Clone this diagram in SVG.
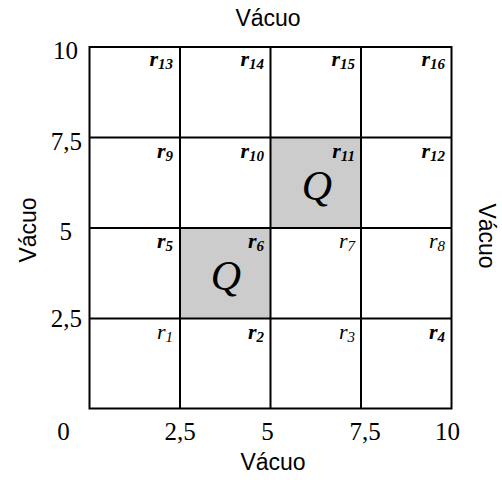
<svg xmlns="http://www.w3.org/2000/svg" width="502" height="480" viewBox="0 0 502 480">
<style>
.grid{stroke:#000;stroke-width:2;fill:none}
.q{fill:#cccccc;stroke:none}
.lab{font-family:"Liberation Serif",serif;font-style:italic;font-size:22px;text-anchor:end}
.b{font-weight:bold}
.sub{font-size:15px}
.ax{font-family:"Liberation Serif",serif;font-size:25px}
.vac{font-family:"Liberation Sans",Arial,sans-serif;font-size:23px;text-anchor:middle}
.Q{font-family:"Liberation Serif",serif;font-style:italic;font-size:42px;text-anchor:middle}
</style>
<rect width="502" height="480" fill="#fff"/>
<g id="shaded">
<rect class="q" x="180" y="228" width="90.5" height="90.5"/>
<rect class="q" x="270.5" y="137.5" width="90.5" height="90.5"/>
</g>
<g id="grid" class="grid">
<rect x="89.5" y="47" width="362" height="361.5"/>
<line x1="180" y1="47" x2="180" y2="408.5"/>
<line x1="270.5" y1="47" x2="270.5" y2="408.5"/>
<line x1="361" y1="47" x2="361" y2="408.5"/>
<line x1="89.5" y1="137.5" x2="451.5" y2="137.5"/>
<line x1="89.5" y1="228" x2="451.5" y2="228"/>
<line x1="89.5" y1="318.5" x2="451.5" y2="318.5"/>
</g>
<g id="labels">
<text class="lab b" x="173" y="66">r<tspan class="sub" dy="3">13</tspan></text>
<text class="lab b" x="264" y="66">r<tspan class="sub" dy="3">14</tspan></text>
<text class="lab b" x="355" y="66">r<tspan class="sub" dy="3">15</tspan></text>
<text class="lab b" x="445" y="66">r<tspan class="sub" dy="3">16</tspan></text>
<text class="lab b" x="173" y="157.5">r<tspan class="sub" dy="3">9</tspan></text>
<text class="lab b" x="264" y="157.5">r<tspan class="sub" dy="3">10</tspan></text>
<text class="lab b" x="355" y="157.5">r<tspan class="sub" dy="3">11</tspan></text>
<text class="lab b" x="445" y="157.5">r<tspan class="sub" dy="3">12</tspan></text>
<text class="lab b" x="173" y="248">r<tspan class="sub" dy="3">5</tspan></text>
<text class="lab b" x="264" y="248">r<tspan class="sub" dy="3">6</tspan></text>
<text class="lab" x="355" y="248">r<tspan class="sub" dy="3">7</tspan></text>
<text class="lab" x="445" y="248">r<tspan class="sub" dy="3">8</tspan></text>
<text class="lab" x="173" y="338.5">r<tspan class="sub" dy="3">1</tspan></text>
<text class="lab b" x="264" y="338.5">r<tspan class="sub" dy="3">2</tspan></text>
<text class="lab" x="355" y="338.5">r<tspan class="sub" dy="3">3</tspan></text>
<text class="lab b" x="445" y="338.5">r<tspan class="sub" dy="3">4</tspan></text>
</g>
<g id="charges">
<text class="Q" x="226" y="290">Q</text>
<text class="Q" x="317" y="200">Q</text>
</g>
<g id="axes">
<text class="ax" x="78" y="59" text-anchor="end">10</text>
<text class="ax" x="82" y="150" text-anchor="end">7,5</text>
<text class="ax" x="72" y="240" text-anchor="end">5</text>
<text class="ax" x="82" y="327" text-anchor="end">2,5</text>
<text class="ax" x="63.5" y="440" text-anchor="middle">0</text>
<text class="ax" x="180" y="440" text-anchor="middle">2,5</text>
<text class="ax" x="267.5" y="440" text-anchor="middle">5</text>
<text class="ax" x="365" y="440" text-anchor="middle">7,5</text>
<text class="ax" x="447.5" y="440" text-anchor="middle">10</text>
</g>
<g id="vacuum">
<text class="vac" x="268" y="26">Vácuo</text>
<text class="vac" x="273" y="470">Vácuo</text>
<text class="vac" transform="translate(36 230) rotate(-90)">Vácuo</text>
<text class="vac" transform="translate(479 236) rotate(90)">Vácuo</text>
</g>
</svg>
